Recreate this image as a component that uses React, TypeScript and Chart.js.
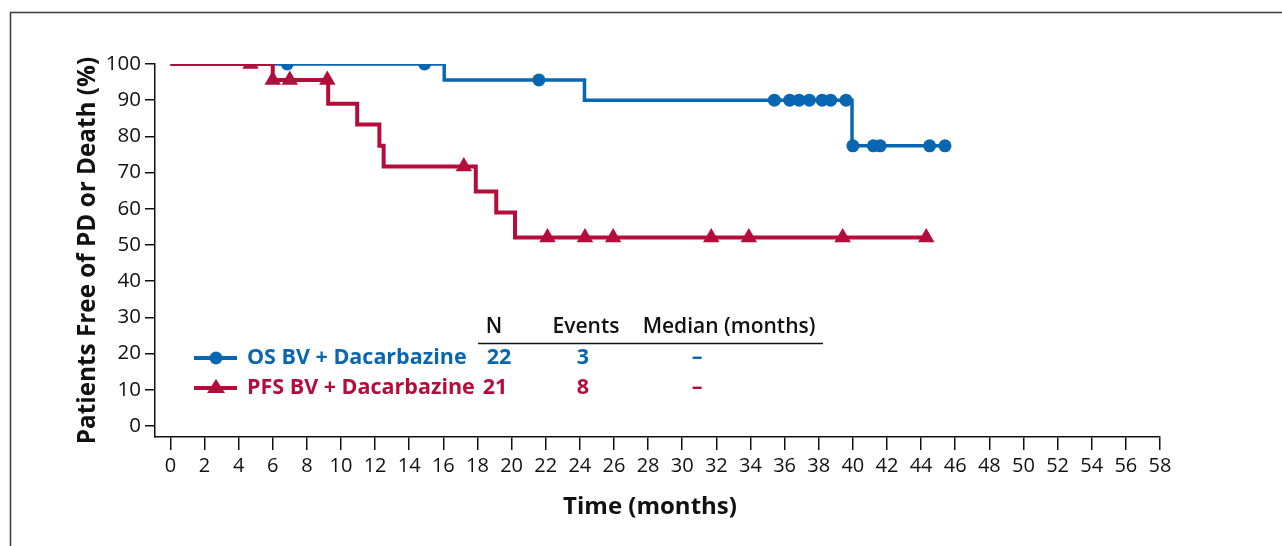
import { useEffect, useRef } from "react";
import { Chart, registerables } from "chart.js";

Chart.register(...registerables);

// ---- data ----
const xTickValues = [0, 2, 4, 6, 8, 10, 12, 14, 16, 18, 20, 22, 24, 26, 28, 30, 32, 34, 36, 38, 40, 42, 44, 46, 48, 50, 52, 54, 56, 58];
const yTickValues = [0, 10, 20, 30, 40, 50, 60, 70, 80, 90, 100];

const osStepX = [0, 16.05, 24.27, 39.95, 45.6];
const osStepY = [100, 95.6, 90.0, 77.4, 77.4];
const osCensorX = [6.85, 14.9, 21.6, 35.4, 36.3, 36.85, 37.45, 38.2, 38.7, 39.6, 40.0, 41.2, 41.6, 44.5, 45.4];
const osCensorY = [100, 100, 95.6, 90, 90, 90, 90, 90, 90, 90, 77.4, 77.4, 77.4, 77.4, 77.4];

const pfsStepX = [0, 6.0, 9.25, 10.95, 12.25, 12.5, 17.9, 19.1, 20.2, 44.3];
const pfsStepY = [100, 95.6, 89.0, 83.3, 77.4, 71.7, 64.8, 59.0, 52.1, 52.1];
const pfsCensorX = [4.7, 6.0, 7.0, 9.2, 17.2, 22.1, 24.3, 25.95, 31.7, 33.9, 39.4, 44.3];
const pfsCensorY = [100, 95.6, 95.6, 95.6, 71.7, 52.1, 52.1, 52.1, 52.1, 52.1, 52.1, 52.1];

const seriesLabels = ["OS BV + Dacarbazine", "PFS BV + Dacarbazine"];
const tableHeaders = ["N", "Events", "Median (months)"];
const nValues = ["22", "21"];
const eventValues = ["3", "8"];
const medianValues = ["–", "–"];

const xTitle = "Time (months)";
const yTitle = "Patients Free of PD or Death (%)";

const BLUE = "#0867b0";
const RED = "#b50d3b";
const INK = "#111111";
const FONT = "'Open Sans', 'Noto Sans', sans-serif";

const pts = (xs: number[], ys: number[]) => xs.map((x, i) => ({ x, y: ys[i] }));

const overlayPlugin = {
  id: "overlay",
  beforeDraw(chart: any) {
    const ctx = chart.ctx;
    ctx.save();
    ctx.fillStyle = "#ffffff";
    ctx.fillRect(0, 0, chart.width, chart.height);
    ctx.strokeStyle = "#3a3a3a";
    ctx.lineWidth = 1.5;
    ctx.beginPath();
    ctx.moveTo(10.5, chart.height);
    ctx.lineTo(10.5, 12.5);
    ctx.lineTo(chart.width, 12.5);
    ctx.stroke();
    ctx.restore();
  },
  afterDraw(chart: any) {
    const ctx = chart.ctx;
    ctx.save();
    // x axis title
    ctx.fillStyle = INK;
    ctx.textBaseline = "middle";
    ctx.textAlign = "center";
    ctx.font = `bold 24px ${FONT}`;
    ctx.fillText(xTitle, 650, 507);

    // header
    ctx.font = `600 21px ${FONT}`;
    ctx.fillText(tableHeaders[0], 494, 327);
    ctx.fillText(tableHeaders[1], 586, 327);
    ctx.fillText(tableHeaders[2], 729, 327);
    ctx.strokeStyle = INK;
    ctx.lineWidth = 1.5;
    ctx.beginPath();
    ctx.moveTo(478, 343.5);
    ctx.lineTo(823, 343.5);
    ctx.stroke();

    const rows = [
      { y: 358, color: BLUE, marker: "circle" },
      { y: 388, color: RED, marker: "triangle" },
    ];
    rows.forEach((r, i) => {
      ctx.strokeStyle = r.color;
      ctx.fillStyle = r.color;
      ctx.lineWidth = 4;
      ctx.beginPath();
      ctx.moveTo(194, r.y);
      ctx.lineTo(237, r.y);
      ctx.stroke();
      if (r.marker === "circle") {
        ctx.beginPath();
        ctx.arc(216, r.y, 6.5, 0, Math.PI * 2);
        ctx.fill();
      } else {
        ctx.beginPath();
        ctx.moveTo(216, r.y - 9);
        ctx.lineTo(225, r.y + 5);
        ctx.lineTo(207, r.y + 5);
        ctx.closePath();
        ctx.fill();
      }
      ctx.font = `bold 21.5px ${FONT}`;
      ctx.textAlign = "left";
      ctx.fillText(seriesLabels[i], 247, r.y);
      ctx.textAlign = "center";
      ctx.fillText(nValues[i], i === 0 ? 499 : 495, r.y);
      ctx.fillText(eventValues[i], 583, r.y);
      ctx.fillText(medianValues[i], 697, r.y);
    });
    ctx.restore();
  },
};

export default function App() {
  const ref = useRef<HTMLCanvasElement | null>(null);
  useEffect(() => {
    if (!ref.current) return;
    const chart = new Chart(ref.current, {
      type: "line",
      data: {
        datasets: [
          {
            label: "PFS censored",
            data: pts(pfsCensorX, pfsCensorY),
            showLine: false,
            pointStyle: "triangle",
            pointRadius: 9.5,
            pointBackgroundColor: RED,
            pointBorderColor: RED,
            pointBorderWidth: 0,
          },
          {
            label: "PFS",
            data: pts(pfsStepX, pfsStepY),
            stepped: "before",
            borderColor: RED,
            borderWidth: 4,
            pointRadius: 0,
            fill: false,
          },
          {
            label: "OS censored",
            data: pts(osCensorX, osCensorY),
            showLine: false,
            pointStyle: "circle",
            pointRadius: 6.5,
            pointBackgroundColor: BLUE,
            pointBorderColor: BLUE,
            pointBorderWidth: 0,
          },
          {
            label: "OS",
            data: pts(osStepX, osStepY),
            stepped: "before",
            borderColor: BLUE,
            borderWidth: 3.5,
            pointRadius: 0,
            fill: false,
          },
        ],
      },
      options: {
        animation: false,
        responsive: false,
        events: [],
        layout: { padding: { left: 69, right: 122, top: 64, bottom: 9 } },
        plugins: { legend: { display: false }, tooltip: { enabled: false }, title: { display: false } },
        scales: {
          x: {
            type: "linear",
            min: -0.9,
            max: 58,
            afterBuildTicks: (s: any) => {
              s.ticks = xTickValues.map((v) => ({ value: v }));
            },
            afterFit: (s: any) => {
              s.height = 100;
            },
            ticks: {
              autoSkip: false,
              maxRotation: 0,
              color: INK,
              padding: 4,
              font: { family: FONT, size: 20 },
            },
            grid: { drawOnChartArea: false, drawTicks: true, tickLength: 13, color: INK, lineWidth: 1.5 },
            border: { display: true, color: INK, width: 1.5 },
            title: { display: false },
          },
          y: {
            type: "linear",
            min: -3.04,
            max: 100,
            afterBuildTicks: (s: any) => {
              s.ticks = yTickValues.map((v) => ({ value: v }));
            },
            afterFit: (s: any) => {
              s.width = 86;
            },
            ticks: {
              autoSkip: false,
              color: INK,
              padding: 4,
              font: { family: FONT, size: 20.5 },
            },
            grid: { drawOnChartArea: false, drawTicks: true, tickLength: 10, color: INK, lineWidth: 1.5 },
            border: { display: true, color: INK, width: 1.5 },
            title: {
              display: true,
              text: yTitle,
              color: INK,
              font: { family: FONT, size: 24.3, weight: "bold" },
              padding: { top: 4, bottom: 4 },
            },
          },
        },
      },
      plugins: [overlayPlugin],
    } as any);
    return () => chart.destroy();
  }, []);
  return (
    <div style={{ position: "fixed", left: 0, top: 0, width: 1282, height: 546, background: "#fff" }}>
      <canvas ref={ref} width={1282} height={546} style={{ width: 1282, height: 546, display: "block" }} />
    </div>
  );
}
